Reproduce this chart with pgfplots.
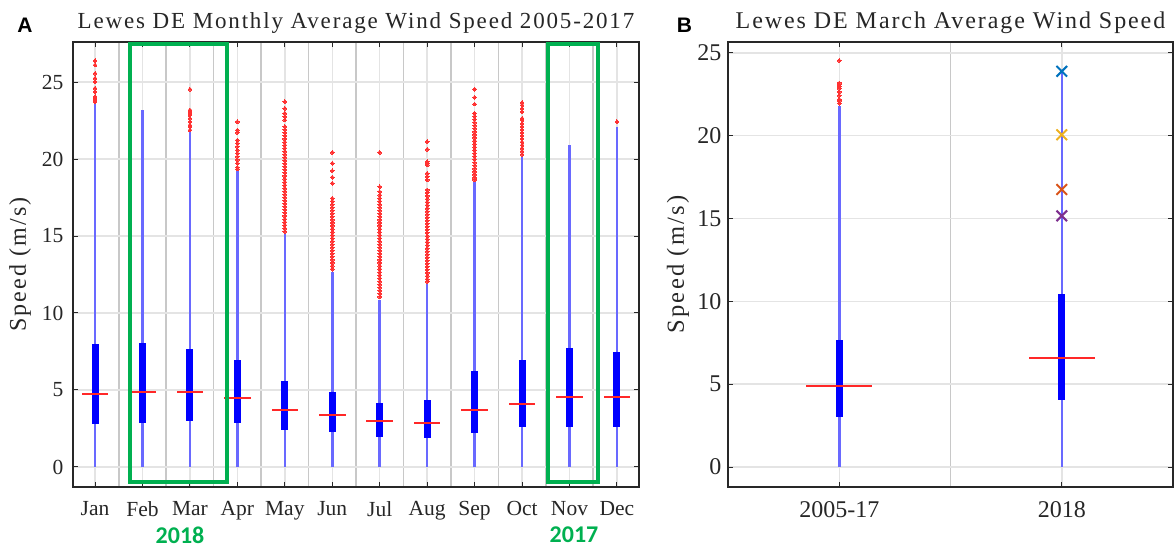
\documentclass[border=0pt]{standalone}
\usepackage{fontspec}
\setmainfont{Liberation Serif}
\newfontfamily\spacedserif[LetterSpace=8]{Liberation Serif}
\newfontfamily\labelserif[LetterSpace=9]{Liberation Serif}
\newfontfamily\panelfont{Liberation Sans}
\newfontfamily\notefont{Carlito}
\usepackage{pgfplots}
\usepackage{pgfplotstable}
\pgfplotsset{compat=1.18}

\definecolor{whisker}{RGB}{105,105,255}
\definecolor{boxblue}{RGB}{0,0,255}
\definecolor{medred}{RGB}{255,40,40}
\definecolor{outred}{RGB}{255,50,50}
\definecolor{gridlight}{RGB}{228,228,228}
\definecolor{griddark}{RGB}{200,200,200}
\definecolor{framegray}{RGB}{40,40,40}
\definecolor{hlgreen}{RGB}{0,176,80}
\definecolor{mblue}{RGB}{0,114,189}
\definecolor{morange}{RGB}{217,83,25}
\definecolor{myellow}{RGB}{237,177,32}
\definecolor{mpurple}{RGB}{126,47,142}

% monthly box statistics, 2005-2017 (m/s)
\pgfplotstableread{
x lo q1 med q3 hi
1 0 2.79 4.76 7.97 23.62
2 0 2.88 4.89 8.07 23.18
3 0 2.99 4.89 7.66 21.77
4 0 2.88 4.48 6.95 19.29
5 0 2.40 3.68 5.58 15.20
6 0 2.29 3.38 4.85 12.68
7 0 1.97 2.99 4.13 10.84
8 0 1.90 2.88 4.35 11.93
9 0 2.19 3.70 6.26 18.53
10 0 2.62 4.09 6.95 20.19
11 0 2.62 4.57 7.75 20.90
12 0 2.62 4.57 7.45 22.10
}\monthly

% outliers above the upper whiskers
\pgfplotstableread[row sep=\\]{
x y\\
1 26.38\\ 1 26.10\\ 1 25.56\\ 1 25.24\\ 1 25.02\\ 1 24.59\\ 1 24.37\\ 1 24.05\\ 1 23.94\\ 1 23.83\\ 1 23.72\\
3 24.53\\ 3 23.18\\ 3 23.07\\ 3 22.96\\ 3 22.85\\ 3 22.64\\ 3 22.42\\ 3 22.20\\ 3 22.09\\ 3 21.88\\
4 22.42\\ 4 21.88\\ 4 21.71\\ 4 21.23\\ 4 21.02\\ 4 20.80\\ 4 20.58\\ 4 20.37\\ 4 20.15\\ 4 19.94\\ 4 19.72\\ 4 19.46\\ 4 19.35\\
5 23.72\\ 5 23.29\\ 5 22.97\\ 5 22.75\\ 5 22.53\\ 5 22.10\\ 5 21.90\\ 5 21.70\\ 5 21.50\\ 5 21.30\\ 5 21.10\\ 5 20.90\\ 5 20.70\\ 5 20.50\\ 5 20.30\\ 5 20.10\\ 5 19.90\\ 5 19.70\\ 5 19.50\\ 5 19.30\\ 5 19.10\\ 5 18.90\\ 5 18.70\\ 5 18.50\\ 5 18.30\\ 5 18.10\\ 5 17.90\\ 5 17.70\\ 5 17.50\\ 5 17.30\\ 5 17.10\\ 5 16.90\\ 5 16.70\\ 5 16.50\\ 5 16.30\\ 5 16.10\\ 5 15.90\\ 5 15.70\\ 5 15.50\\ 5 15.30\\
6 20.43\\ 6 19.72\\ 6 19.24\\ 6 18.81\\ 6 18.42\\ 6 17.45\\ 6 17.25\\ 6 17.05\\ 6 16.85\\ 6 16.65\\ 6 16.45\\ 6 16.25\\ 6 16.05\\ 6 15.85\\ 6 15.65\\ 6 15.45\\ 6 15.25\\ 6 15.05\\ 6 14.85\\ 6 14.65\\ 6 14.45\\ 6 14.25\\ 6 14.05\\ 6 13.85\\ 6 13.65\\ 6 13.45\\ 6 13.25\\ 6 13.05\\ 6 12.85\\
7 20.43\\ 7 18.20\\ 7 17.88\\ 7 17.66\\ 7 17.45\\ 7 17.25\\ 7 17.05\\ 7 16.85\\ 7 16.65\\ 7 16.45\\ 7 16.25\\ 7 16.05\\ 7 15.85\\ 7 15.65\\ 7 15.45\\ 7 15.25\\ 7 15.05\\ 7 14.85\\ 7 14.65\\ 7 14.45\\ 7 14.25\\ 7 14.05\\ 7 13.85\\ 7 13.65\\ 7 13.45\\ 7 13.25\\ 7 13.05\\ 7 12.85\\ 7 12.65\\ 7 12.45\\ 7 12.25\\ 7 12.05\\ 7 11.85\\ 7 11.65\\ 7 11.45\\ 7 11.25\\ 7 11.05\\
8 21.13\\ 8 20.63\\ 8 19.83\\ 8 19.72\\ 8 19.61\\ 8 19.07\\ 8 18.86\\ 8 18.64\\ 8 17.99\\ 8 17.80\\ 8 17.60\\ 8 17.40\\ 8 17.20\\ 8 17.00\\ 8 16.80\\ 8 16.60\\ 8 16.40\\ 8 16.20\\ 8 16.00\\ 8 15.80\\ 8 15.60\\ 8 15.40\\ 8 15.20\\ 8 15.00\\ 8 14.80\\ 8 14.60\\ 8 14.40\\ 8 14.20\\ 8 14.00\\ 8 13.80\\ 8 13.60\\ 8 13.40\\ 8 13.20\\ 8 13.00\\ 8 12.80\\ 8 12.60\\ 8 12.40\\ 8 12.20\\ 8 12.05\\
9 24.53\\ 9 24.00\\ 9 23.57\\ 9 22.97\\ 9 22.77\\ 9 22.57\\ 9 22.37\\ 9 22.17\\ 9 21.97\\ 9 21.77\\ 9 21.57\\ 9 21.37\\ 9 21.17\\ 9 20.97\\ 9 20.77\\ 9 20.57\\ 9 20.37\\ 9 20.17\\ 9 19.97\\ 9 19.77\\ 9 19.57\\ 9 19.37\\ 9 19.17\\ 9 18.97\\ 9 18.77\\ 9 18.64\\
10 23.66\\ 10 23.50\\ 10 23.28\\ 10 23.07\\ 10 22.64\\ 10 22.53\\ 10 22.30\\ 10 22.10\\ 10 21.90\\ 10 21.70\\ 10 21.50\\ 10 21.30\\ 10 21.10\\ 10 20.90\\ 10 20.70\\ 10 20.50\\ 10 20.30\\
12 22.42\\
}\monthlyout

% March: climatology vs. 2018
\pgfplotstableread{
x lo q1 med q3 hi
1 0 3.00 4.90 7.67 21.80
2 0 4.02 6.59 10.45 23.88
}\march

\pgfplotstableread[row sep=\\]{
x y\\
1 24.53\\ 1 23.18\\ 1 23.07\\ 1 22.96\\ 1 22.85\\ 1 22.64\\ 1 22.42\\ 1 22.20\\ 1 22.09\\ 1 21.95\\
}\marchout

\pgfplotsset{
  matlabbox/.style={
    scale only axis,
    anchor=south west,
    tick align=inside,
    tick pos=both,
    major tick length=5pt,
    minor tick length=0pt,
    grid=both,
    major grid style={draw=gridlight, line width=1.5pt},
    minor grid style={draw=griddark, line width=1.5pt},
    axis line style={draw=framegray, line width=1.3pt},
    every tick/.style={draw=framegray, line width=1pt},
    /pgf/number format/assume math mode=true,
    every axis title/.style={at={(0.5,1)}, anchor=base, yshift=13pt},
    xticklabel style={yshift=-11pt},
    clip=false,
  },
  whiskers/.style={draw=none, mark=none, forget plot,
    error bars/.cd, y dir=plus, y explicit, error mark=none,
    error bar style={draw=whisker, line width=2.5pt}},
  boxes/.style={draw=none, mark=none, forget plot,
    error bars/.cd, y dir=both, y explicit, error mark=none,
    error bar style={draw=boxblue, line width=7pt, line cap=butt}},
  medians/.style={draw=none, mark=none, forget plot,
    error bars/.cd, x dir=both, x fixed=#1, error mark=none,
    error bar style={draw=medred, line width=2pt}},
  outliers/.style={only marks, mark=*, mark size=1.9pt, forget plot,
    color=outred, mark options={draw=outred, fill=outred, line width=0pt}},
  storm/.style={only marks, mark=x, mark size=7.5pt, forget plot,
    color=#1, mark options={draw=#1, line width=2pt}},
}

\begin{document}
\begin{tikzpicture}
\path[use as bounding box] (0pt,0pt) rectangle (1175pt,548pt);

% ---------------- panel A ----------------
\begin{axis}[
  matlabbox,
  at={(73pt,61pt)},
  width=566pt, height=445pt,
  xmin=0.535, xmax=12.465,
  ymin=-1.3, ymax=27.6,
  xtick={1,...,12},
  xticklabels={Jan,Feb,Mar,Apr,May,Jun,Jul,Aug,Sep,Oct,Nov,Dec},
  minor xtick={1.5,2.5,...,11.5},
  ytick={0,5,...,25},
  tick label style={font=\fontsize{21.5}{24}\selectfont, text=black!85},
  yticklabel style={xshift=-6pt},
  title={Lewes DE Monthly Average Wind Speed 2005-2017},
  title style={font=\spacedserif\fontsize{23}{26}\selectfont, text=black!85},
  ylabel={Speed (m/s)},
  ylabel style={at={(axis description cs:-0.0936,0.5)}, anchor=center,
    font=\labelserif\fontsize{24}{26}\selectfont, text=black!85},
]
\addplot[whiskers] table[x=x, y=lo, y error=hi] {\monthly};
\addplot[boxes] table[x=x, y=med,
  y error plus expr=\thisrow{q3}-\thisrow{med},
  y error minus expr=\thisrow{med}-\thisrow{q1}] {\monthly};
\addplot[medians=0.28] table[x=x, y=med] {\monthly};
\addplot[outliers] table[x=x, y=y] {\monthlyout};

% highlighted months
\draw[hlgreen, line width=4pt] (axis cs:1.731,-0.95) rectangle (axis cs:3.788,27.47);
\draw[hlgreen, line width=4pt] (axis cs:10.543,-0.95) rectangle (axis cs:11.607,27.47);
\end{axis}

% ---------------- panel B ----------------
\begin{axis}[
  matlabbox,
  at={(728pt,61pt)},
  width=445pt, height=445pt,
  xmin=0.5, xmax=2.5,
  ymin=-1.2, ymax=25.65,
  xtick={1,2},
  xticklabels={2005-17,2018},
  minor xtick={1.5},
  ytick={0,5,...,25},
  tick label style={font=\fontsize{24}{27}\selectfont, text=black!85},
  yticklabel style={xshift=-3pt},
  title={Lewes DE March Average Wind Speed},
  title style={font=\spacedserif\fontsize{24}{27}\selectfont, text=black!85},
  ylabel={Speed (m/s)},
  ylabel style={at={(axis description cs:-0.1124,0.5)}, anchor=center,
    font=\labelserif\fontsize{24.5}{27}\selectfont, text=black!85},
]
\addplot[whiskers] table[x=x, y=lo, y error=hi] {\march};
\addplot[boxes] table[x=x, y=med,
  y error plus expr=\thisrow{q3}-\thisrow{med},
  y error minus expr=\thisrow{med}-\thisrow{q1}] {\march};
\addplot[medians=0.148] table[x=x, y=med] {\march};
\addplot[outliers] table[x=x, y=y] {\marchout};
% individual March 2018 storm peaks
\addplot[storm=mblue] coordinates {(2,23.88)};
\addplot[storm=myellow] coordinates {(2,20.05)};
\addplot[storm=morange] coordinates {(2,16.75)};
\addplot[storm=mpurple] coordinates {(2,15.16)};
\end{axis}

% panel letters and year notes
\node[font=\panelfont\bfseries\fontsize{21}{24}\selectfont] at (25pt,522.5pt) {A};
\node[font=\panelfont\bfseries\fontsize{21}{24}\selectfont] at (684.5pt,522.5pt) {B};
\node[font=\notefont\bfseries\fontsize{24}{27}\selectfont, text=hlgreen] at (180pt,13pt) {2018};
\node[font=\notefont\bfseries\fontsize{24}{27}\selectfont, text=hlgreen] at (574pt,13pt) {2017};
\end{tikzpicture}
\end{document}
